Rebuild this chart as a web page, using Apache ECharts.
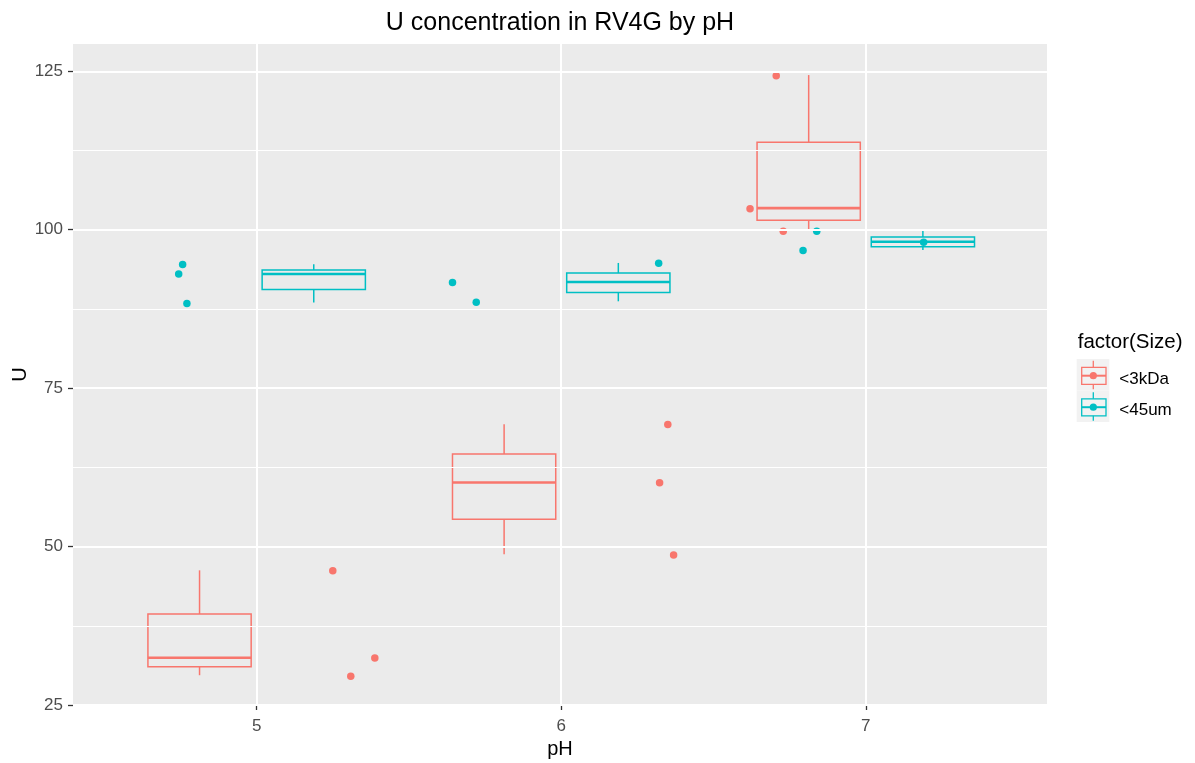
<!DOCTYPE html>
<html>
<head>
<meta charset="utf-8">
<script src="https://cdn.jsdelivr.net/npm/echarts@6/dist/echarts.min.js"></script>
<style>
html,body{margin:0;padding:0;background:#fff;}
#chart{width:1195px;height:763px;}
</style>
</head>
<body>
<div id="chart"></div>
<script>
// ---- data ----
const sizeLevels = ['<3kDa', '<45um'];
const phLevels = [5, 6, 7];
// [lower whisker, Q1, median, Q3, upper whisker] per pH level
const box3kDa = [
  [29.7, 31.05, 32.45, 39.35, 46.25],
  [48.8, 54.3, 60.1, 64.6, 69.3],
  [99.9, 101.5, 103.4, 113.8, 124.4]
];
const box45um = [
  [88.5, 90.55, 93.0, 93.65, 94.55],
  [88.7, 90.1, 91.75, 93.15, 94.75],
  [96.8, 97.3, 98.1, 98.85, 99.8]
];
// jittered points [pH, U]
const pts3kDa = [
  [5.250, 46.2], [5.309, 29.55], [5.388, 32.4],
  [6.350, 69.25], [6.323, 60.05], [6.369, 48.65],
  [6.706, 124.3], [6.620, 103.3], [6.729, 99.75]
];
const pts45um = [
  [4.757, 94.5], [4.744, 93.0], [4.771, 88.35],
  [5.643, 91.65], [5.721, 88.55], [6.320, 94.7],
  [6.839, 99.75], [6.794, 96.7], [7.190, 98.0]
];
const xTicks = [5, 6, 7];
const yTicks = [25, 50, 75, 100, 125];
const yMinor = [37.5, 62.5, 87.5, 112.5];

// ---- styles ----
const COLORS = ['#F8766D', '#00BFC4'];
const DODGE = 0.1875;
const BOX_W = 0.339;
const FONT = 'Liberation Sans, Arial, sans-serif';

function boxData(boxes, offset) {
  return boxes.map((b, i) => [phLevels[i] + offset].concat(b));
}

function makeBoxRender(color) {
  return function (params, api) {
    const x = api.value(0);
    const pLo = api.coord([x, api.value(1)]);
    const pQ1 = api.coord([x, api.value(2)]);
    const pMed = api.coord([x, api.value(3)]);
    const pQ3 = api.coord([x, api.value(4)]);
    const pHi = api.coord([x, api.value(5)]);
    const hw = api.size([BOX_W, 0])[0] / 2;
    const cx = pMed[0];
    const lw = 1.5;
    return {
      type: 'group',
      children: [
        { type: 'line', shape: { x1: cx, y1: pHi[1], x2: cx, y2: pQ3[1] }, style: { stroke: color, lineWidth: lw } },
        { type: 'line', shape: { x1: cx, y1: pQ1[1], x2: cx, y2: pLo[1] }, style: { stroke: color, lineWidth: lw } },
        { type: 'rect', shape: { x: cx - hw, y: pQ3[1], width: 2 * hw, height: pQ1[1] - pQ3[1] }, style: { fill: null, stroke: color, lineWidth: lw } },
        { type: 'line', shape: { x1: cx - hw, y1: pMed[1], x2: cx + hw, y2: pMed[1] }, style: { stroke: color, lineWidth: 2.6 } }
      ]
    };
  };
}

const gridLines = []
  .concat(yTicks.map(v => ({ yAxis: v, lineStyle: { color: '#ffffff', width: 2, type: 'solid' } })))
  .concat(yMinor.map(v => ({ yAxis: v, lineStyle: { color: '#ffffff', width: 1, type: 'solid' } })))
  .concat(xTicks.map(v => ({ xAxis: v, lineStyle: { color: '#ffffff', width: 2, type: 'solid' } })));

// legend glyph (graphic)
function legendKey(y0, color, label) {
  const cx = 1093.3, top = y0;
  return [
    { type: 'rect', shape: { x: 1076.7, y: top, width: 32.6, height: 31.5 }, style: { fill: '#F2F2F2' } },
    { type: 'line', shape: { x1: cx, y1: top + 1.7, x2: cx, y2: top + 8.3 }, style: { stroke: color, lineWidth: 1.3 } },
    { type: 'line', shape: { x1: cx, y1: top + 25.3, x2: cx, y2: top + 30.3 }, style: { stroke: color, lineWidth: 1.3 } },
    { type: 'rect', shape: { x: 1081.7, y: top + 8.3, width: 24.3, height: 17 }, style: { fill: null, stroke: color, lineWidth: 1.3 } },
    { type: 'line', shape: { x1: 1081.7, y1: top + 16.7, x2: 1106, y2: top + 16.7 }, style: { stroke: color, lineWidth: 2 } },
    { type: 'circle', shape: { cx: cx, cy: top + 16.7, r: 3.6 }, style: { fill: color } },
    { type: 'text', x: 1119.3, y: top + 20, style: { text: label, font: '17px ' + FONT, fill: '#000', verticalAlign: 'middle', align: 'left' } }
  ];
}

const chart = echarts.init(document.getElementById('chart'));
chart.setOption({
  animation: false,
  backgroundColor: '#ffffff',
  title: {
    text: 'U concentration in RV4G by pH',
    left: 555, top: 6, textAlign: 'center',
    textStyle: { fontFamily: FONT, fontSize: 25, fontWeight: 'normal', color: '#000' }
  },
  grid: {
    left: 73, right: 148, top: 44, bottom: 58,
    outerBoundsMode: 'none', containLabel: false,
    show: true, backgroundColor: '#EBEBEB', borderWidth: 0
  },
  xAxis: {
    type: 'value', min: 4.397, max: 7.595,
    name: 'pH', nameLocation: 'middle', nameGap: 34, nameMoveOverlap: false,
    nameTextStyle: { fontFamily: FONT, fontSize: 20, color: '#000' },
    axisLine: { show: false },
    axisTick: { show: true, length: 5, customValues: xTicks, lineStyle: { color: '#333333', width: 1.3 } },
    axisLabel: { customValues: xTicks, margin: 13, fontFamily: FONT, fontSize: 17, color: '#4D4D4D' },
    splitLine: { show: false }
  },
  yAxis: {
    type: 'value', min: 25, max: 129.3,
    name: 'U', nameLocation: 'middle', nameGap: 43, nameRotate: 90, nameMoveOverlap: false,
    nameTextStyle: { fontFamily: FONT, fontSize: 20, color: '#000' },
    axisLine: { show: false },
    axisTick: { show: true, length: 5, customValues: yTicks, lineStyle: { color: '#333333', width: 1.3 } },
    axisLabel: { customValues: yTicks, margin: 10, fontFamily: FONT, fontSize: 17, color: '#4D4D4D' },
    splitLine: { show: false }
  },
  series: [
    {
      type: 'scatter', data: [], z: 1, silent: true,
      markLine: { silent: true, symbol: ['none', 'none'], label: { show: false }, animation: false, data: gridLines }
    },
    { type: 'custom', name: sizeLevels[0], z: 3, data: boxData(box3kDa, -DODGE), renderItem: makeBoxRender(COLORS[0]), encode: { x: 0, y: [1, 2, 3, 4, 5] } },
    { type: 'custom', name: sizeLevels[1], z: 3, data: boxData(box45um, DODGE), renderItem: makeBoxRender(COLORS[1]), encode: { x: 0, y: [1, 2, 3, 4, 5] } },
    { type: 'scatter', name: sizeLevels[0], z: 4, data: pts3kDa, symbolSize: 7.5, itemStyle: { color: COLORS[0], opacity: 1 } },
    { type: 'scatter', name: sizeLevels[1], z: 4, data: pts45um, symbolSize: 7.5, itemStyle: { color: COLORS[1], opacity: 1 } }
  ],
  graphic: [
    { type: 'text', x: 1077.7, y: 342, style: { text: 'factor(Size)', font: '20.5px ' + FONT, fill: '#000', verticalAlign: 'middle', align: 'left' } }
  ].concat(legendKey(359, COLORS[0], sizeLevels[0])).concat(legendKey(390.5, COLORS[1], sizeLevels[1]))
});
</script>
</body>
</html>
